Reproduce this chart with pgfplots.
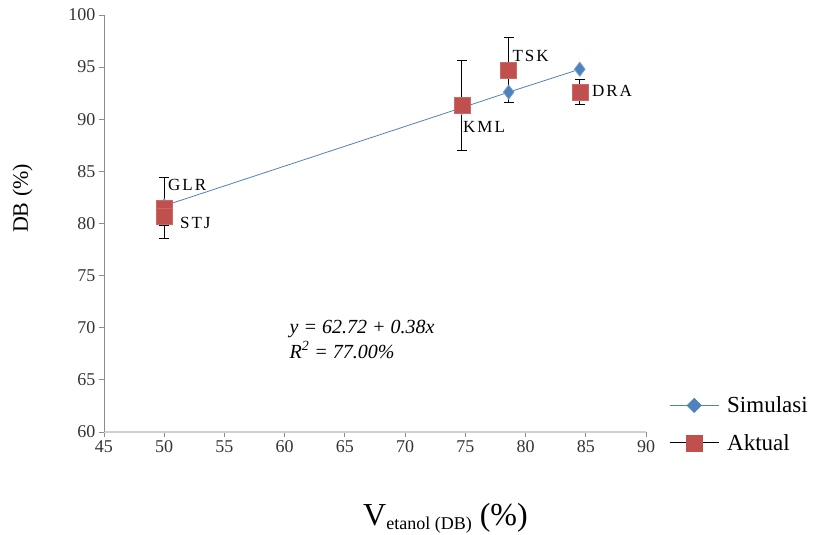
\documentclass[border=0pt]{standalone}
\usepackage{fontspec}
\setmainfont{Liberation Serif}
\usepackage{pgfplots}
\pgfplotsset{compat=1.18}
\definecolor{simblue}{HTML}{4F81BD}
\definecolor{aktred}{HTML}{C0504D}
\definecolor{axgray}{HTML}{8C8C8C}
\definecolor{xaxgray}{HTML}{D0D0D0}

\begin{document}
\begin{tikzpicture}
\begin{axis}[
    name=ax,
    scale only axis,
    width=542pt, height=417pt,
    xmin=45, xmax=90, ymin=60, ymax=100,
    xtick={45,50,...,90}, ytick={60,65,...,100},
    axis x line=bottom, axis y line=left,
    x axis line style={draw=xaxgray, line width=2pt, -},
    y axis line style={draw=axgray, line width=0.8pt, -},
    tick align=outside,
    major tick length=5pt,
    tick style={draw=axgray, line width=0.8pt},
    /pgf/number format/assume math mode=true,
    xticklabel style={font=\fontsize{18}{18}\selectfont, text=black!80},
    yticklabel style={font=\fontsize{18}{18}\selectfont, text=black!80},
    xlabel={\fontsize{32}{32}\selectfont V\raisebox{-4pt}{\fontsize{18}{18}\selectfont etanol (DB)} (\%)},
    xlabel style={at={(axis description cs:0.63,0)}, anchor=base, yshift=-93pt, inner sep=0pt},
    ylabel={DB (\%)},
    ylabel style={font=\fontsize{22}{22}\selectfont, at={(axis description cs:-0.15,0.56)}, anchor=center},
    legend style={at={(1.0424,0.09)}, anchor=north west, draw=none, fill=none,
        inner sep=0pt, font=\fontsize{23}{23}\selectfont, row sep=16pt, legend cell align=left,
        /tikz/every odd column/.append style={column sep=6pt}},
    clip=false,
]
% Simulasi
\addplot[simblue, line width=0.8pt, mark=diamond*, mark size=7pt,
    mark options={fill=simblue, draw=simblue!80!white},
    legend image code/.code={
        \draw[simblue, line width=0.8pt] (0pt,0pt) -- (49pt,0pt);
        \fill[simblue] (24.5pt,7pt) -- (31.5pt,0pt) -- (24.5pt,-7pt) -- (17.5pt,0pt) -- cycle;}]
    coordinates {(50,81.7) (74.7,91.1) (78.6,92.6) (84.5,94.8)};
\addlegendentry{Simulasi}

% Aktual
\addplot[only marks, mark=square*, mark size=8pt,
    mark options={fill=aktred, draw=aktred!85!white},
    error bars/.cd, y dir=both, y explicit,
    error bar style={black, line width=1pt},
    error mark options={rotate=90, mark size=5pt, black, line width=1pt},
    /pgfplots/legend image code/.code={
        \draw[black, line width=1pt] (0pt,0pt) -- (49pt,0pt);
        \fill[aktred] (16.5pt,-8pt) rectangle (32.5pt,8pt);}]
    coordinates {
        (50,81.5) +- (0,2.9)
        (50,80.7) +- (0,0.9)
        (74.7,91.3) +- (0,4.3)
        (78.6,94.7) +- (0,3.1)
        (84.5,92.6) +- (0,1.2)
    };
\addlegendentry{Aktual}

\begin{scope}[every node/.style={font=\fontsize{17}{17}\selectfont\addfontfeature{LetterSpace=12}, anchor=west, inner sep=0pt}]
\node at (axis cs:50.3,83.7) {GLR};
\node at (axis cs:51.3,80.1) {STJ};
\node at (axis cs:74.8,89.3) {KML};
\node at (axis cs:78.9,96.1) {TSK};
\node at (axis cs:85.5,92.7) {DRA};
\end{scope}
\node[anchor=west, align=left, inner sep=0pt, font=\fontsize{20}{25}\selectfont\itshape]
    at (axis cs:60.4,68.9) {y = 62.72 + 0.38x\\R\textsuperscript{2} = 77.00\%};
\end{axis}
\path ([xshift=-104pt,yshift=-103pt]ax.south west) rectangle ([xshift=173pt,yshift=15pt]ax.north east);
\end{tikzpicture}
\end{document}
